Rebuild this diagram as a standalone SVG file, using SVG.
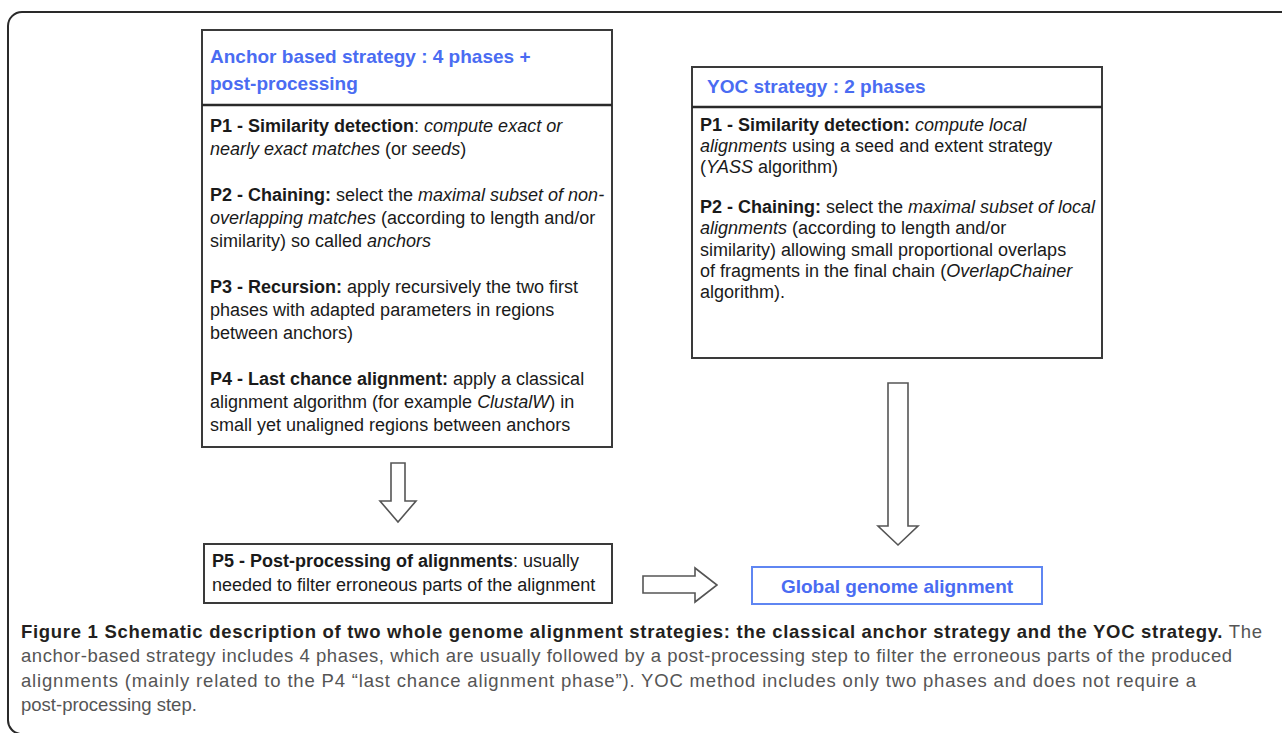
<svg xmlns="http://www.w3.org/2000/svg" width="1282" height="733" viewBox="0 0 1282 733">
<style>
.box{fill:#fff;stroke:#3a3a3a;stroke-width:2}
.div{stroke:#2a2a2a;stroke-width:2.5}
.hd{font-family:"Liberation Sans",Arial,sans-serif;font-weight:bold;font-size:19px;fill:#4a6cf2}
.t{font-family:"Liberation Sans",Arial,sans-serif;font-size:18px;fill:#1a1a1a}
.b{font-weight:bold}
.i{font-style:italic}
.arr{fill:#fff;stroke:#555;stroke-width:1.6;stroke-linejoin:miter}
.cap{font-family:"Liberation Sans",Arial,sans-serif;font-size:18.5px;fill:#555}
.capb{font-weight:bold;fill:#231f20}
</style>
<path d="M1282,12 H22 A14,14 0 0 0 8,26 V720 A14,14 0 0 0 20,734" fill="none" stroke="#2a2a2a" stroke-width="2"/>

<g id="anchor-box">
<rect class="box" x="202" y="30" width="410" height="417"/>
<line class="div" x1="202" y1="105" x2="612" y2="105"/>
<text class="hd" x="210" y="63">Anchor based strategy : 4 phases +</text>
<text class="hd" x="210" y="90">post-processing</text>
<text class="t" x="210" y="132"><tspan class="b">P1 - Similarity detection</tspan>: <tspan class="i">compute exact or</tspan></text>
<text class="t" x="210" y="155"><tspan class="i">nearly exact matches</tspan> (or <tspan class="i">seeds</tspan>)</text>
<text class="t" x="210" y="201"><tspan class="b">P2 - Chaining:</tspan> select the <tspan class="i">maximal subset of non-</tspan></text>
<text class="t" x="210" y="224"><tspan class="i">overlapping matches</tspan> (according to length and/or</text>
<text class="t" x="210" y="247">similarity) so called <tspan class="i">anchors</tspan></text>
<text class="t" x="210" y="293"><tspan class="b">P3 - Recursion:</tspan> apply recursively the two first</text>
<text class="t" x="210" y="316">phases with adapted parameters in regions</text>
<text class="t" x="210" y="339">between anchors)</text>
<text class="t" x="210" y="385"><tspan class="b">P4 - Last chance alignment:</tspan> apply a classical</text>
<text class="t" x="210" y="408">alignment algorithm (for example <tspan class="i">ClustalW</tspan>) in</text>
<text class="t" x="210" y="431">small yet unaligned regions between anchors</text>
</g>

<g id="yoc-box">
<rect class="box" x="692" y="67" width="410" height="291"/>
<line class="div" x1="692" y1="107" x2="1102" y2="107"/>
<text class="hd" x="707" y="93">YOC strategy : 2 phases</text>
<text class="t" x="700" y="131"><tspan class="b">P1 - Similarity detection:</tspan> <tspan class="i">compute local</tspan></text>
<text class="t" x="700" y="152"><tspan class="i">alignments</tspan> using a seed and extent strategy</text>
<text class="t" x="700" y="173">(<tspan class="i">YASS</tspan> algorithm)</text>
<text class="t" x="700" y="213"><tspan class="b">P2 - Chaining:</tspan> select the <tspan class="i">maximal subset of local</tspan></text>
<text class="t" x="700" y="234"><tspan class="i">alignments</tspan> (according to length and/or</text>
<text class="t" x="700" y="256">similarity) allowing small proportional overlaps</text>
<text class="t" x="700" y="277">of fragments in the final chain (<tspan class="i">OverlapChainer</tspan></text>
<text class="t" x="700" y="298">algorithm).</text>
</g>

<g id="p5-box">
<rect class="box" x="204" y="544" width="408" height="59"/>
<text class="t" x="212" y="567"><tspan class="b">P5 - Post-processing of alignments</tspan>: usually</text>
<text class="t" x="212" y="591">needed to filter erroneous parts of the alignment</text>
</g>

<g id="global-box">
<rect x="752" y="567" width="290" height="37" fill="#fff" stroke="#5f86f2" stroke-width="2"/>
<text class="hd" x="897" y="593" text-anchor="middle">Global genome alignment</text>
</g>

<g id="connectors">
<path class="arr" d="M391,463 H405 V501 H416 L398,522 L380,501 H391 Z"/>
<path class="arr" d="M888,383 H908 V526 H918 L898,545 L878,526 H888 Z"/>
<path class="arr" d="M643,576 H695 V568 L717,585 L695,602 V593 H643 Z"/>
</g>

<g id="caption">
<text class="cap" x="21" y="638" textLength="1241" lengthAdjust="spacing"><tspan class="capb">Figure 1 Schematic description of two whole genome alignment strategies: the classical anchor strategy and the YOC strategy.</tspan> The</text>
<text class="cap" x="21" y="662" textLength="1211" lengthAdjust="spacing">anchor-based strategy includes 4 phases, which are usually followed by a post-processing step to filter the erroneous parts of the produced</text>
<text class="cap" x="21" y="687" textLength="1175" lengthAdjust="spacing">alignments (mainly related to the P4 “last chance alignment phase”). YOC method includes only two phases and does not require a</text>
<text class="cap" x="21" y="711">post-processing step.</text>
</g>
</svg>
